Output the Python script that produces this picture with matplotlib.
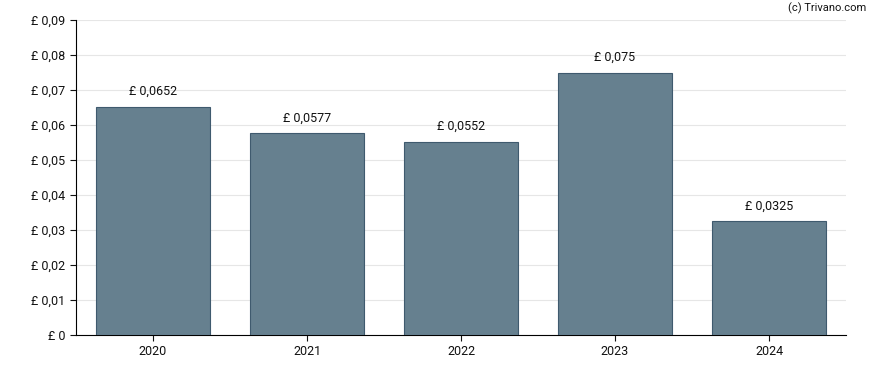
import matplotlib
matplotlib.use('Agg')
import matplotlib.pyplot as plt

plt.rcParams['font.family'] = ['Roboto', 'DejaVu Sans']

years = ['2020', '2021', '2022', '2023', '2024']
dividend = [0.0652, 0.0577, 0.0552, 0.075, 0.0325]
labels = ['£ 0,0652', '£ 0,0577', '£ 0,0552', '£ 0,075', '£ 0,0325']
yticks = [0, 0.01, 0.02, 0.03, 0.04, 0.05, 0.06, 0.07, 0.08, 0.09]

fig = plt.figure(figsize=(8.88, 3.7), dpi=100)
ax = fig.add_axes([76/888, 35/370, 770/888, 315/370])

x = range(len(years))
ax.bar(x, dividend, width=0.74, color='#66808f', edgecolor='#3f5a6e', linewidth=0.8, zorder=3)
for i, v in enumerate(dividend):
	ax.text(i, v + 0.0025, labels[i], ha='center', va='bottom', fontsize=9, color='#111111')

ax.set_xlim(-0.5, len(years) - 0.5)
ax.set_ylim(0, 0.09)
ax.set_xticks(list(x))
ax.set_xticklabels(years)
ax.set_yticks(yticks)
ax.set_yticklabels(['£ 0'] + ['£ ' + ('%.2f' % t).replace('.', ',') for t in yticks[1:]])
ax.tick_params(labelsize=9, length=4, colors='#111111')
ax.grid(axis='y', color='#e6e6e6', linewidth=0.8, zorder=0)
ax.spines['top'].set_visible(False)
ax.spines['right'].set_visible(False)

fig.text(866/888, 1 - 8/370, '(c) Trivano.com', ha='right', va='center', fontsize=8, color='#111111')

fig.savefig('out.png', dpi=100)
